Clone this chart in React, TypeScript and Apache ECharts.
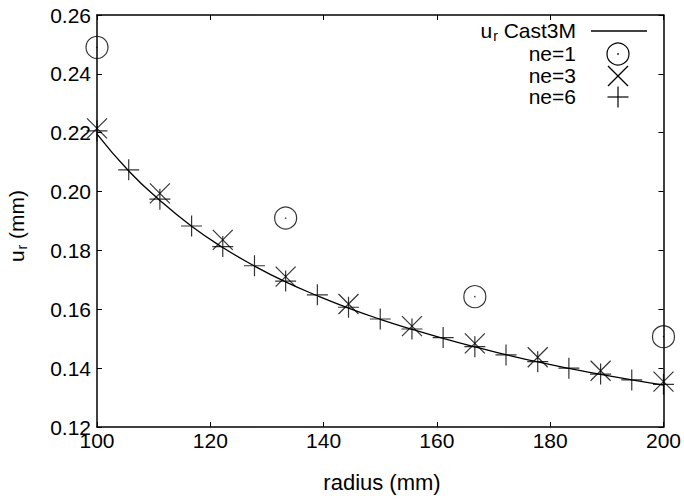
import React, { useEffect, useRef } from "react";
import * as echarts from "echarts";

const yTicks = { min: 0.12, max: 0.26, interval: 0.02 };
const xTicks = { min: 100, max: 200, interval: 20 };

const castX = [100, 105.6, 111.1, 116.7, 122.2, 127.8, 133.3, 138.9, 144.4, 150, 155.6, 161.1, 166.7, 172.2, 177.8, 183.3, 188.9, 194.4, 200];
const castY = [0.2195, 0.207, 0.197, 0.1882, 0.181, 0.1747, 0.1693, 0.1646, 0.1604, 0.1566, 0.1532, 0.1501, 0.1472, 0.1446, 0.1421, 0.1399, 0.1379, 0.136, 0.1342];

const ne1X = [100, 133.3, 166.7, 200];
const ne1Y = [0.249, 0.191, 0.1643, 0.1507];

const ne3X = [100, 111.1, 122.2, 133.3, 144.4, 155.6, 166.7, 177.8, 188.9, 200];
const ne3Y = [0.2215, 0.1994, 0.1836, 0.1711, 0.1618, 0.1543, 0.1484, 0.1437, 0.1391, 0.1354];

const ne6X = [100, 105.6, 111.1, 116.7, 122.2, 127.8, 133.3, 138.9, 144.4, 150, 155.6, 161.1, 166.7, 172.2, 177.8, 183.3, 188.9, 194.4, 200];
const ne6Y = [0.2206, 0.2074, 0.1974, 0.1883, 0.1813, 0.1748, 0.1696, 0.1649, 0.1607, 0.1567, 0.1533, 0.1504, 0.1473, 0.1445, 0.1422, 0.14, 0.138, 0.136, 0.1345];

const legendNames = ["Cast3M", "ne=1", "ne=3", "ne=6"];

const zip = (xs: number[], ys: number[]) => xs.map((x, i) => [x, ys[i]]);

const FONT = "Liberation Sans";
const FS = 21;
const PLUS = "path://M5,0L5,10M0,5L10,5";
const CROSS = "path://M0,0L10,10M10,0L0,10";

export default function App() {
  const ref = useRef<HTMLDivElement>(null);
  useEffect(() => {
    if (!ref.current) return;
    const chart = echarts.init(ref.current, null, { renderer: "svg" });
    const axisCommon = {
      axisLine: { show: true, lineStyle: { color: "#000", width: 1.5 } },
      axisTick: { show: true, inside: true, length: 5, lineStyle: { color: "#000", width: 1 } },
      splitLine: { show: false },
    };
    const labelStyle = { color: "#000", fontFamily: FONT, fontSize: FS };
    const markerStyle = { color: "none", borderColor: "#000", borderWidth: 1.2 };
    const legendTextStyle = { fill: "#000", font: `${FS}px "${FONT}"`, textAlign: "right", textVerticalAlign: "middle" };
    const richUr = {
      a: { fontFamily: FONT, fontSize: FS, fill: "#000", color: "#000" },
      b: { fontFamily: FONT, fontSize: 14, fill: "#000", color: "#000", padding: [11, 0, 0, 1] },
    };
    chart.setOption({
      animation: false,
      backgroundColor: "#fff",
      grid: { left: 97, right: 17, top: 15, bottom: 76, containLabel: false },
      xAxis: [
        {
          type: "value", position: "bottom", ...xTicks, ...axisCommon,
          axisLabel: { ...labelStyle, margin: 3, formatter: (v: number) => String(v) },
        },
        {
          type: "value", position: "top", ...xTicks, ...axisCommon,
          axisLabel: { show: false },
        },
      ],
      yAxis: [
        {
          type: "value", position: "left", ...yTicks, ...axisCommon,
          axisLabel: { ...labelStyle, margin: 6, formatter: (v: number) => v.toFixed(2) },
        },
        {
          type: "value", position: "right", ...yTicks, ...axisCommon,
          axisLabel: { show: false },
        },
      ],
      series: [
        {
          name: legendNames[0], type: "line", data: zip(castX, castY), smooth: true,
          showSymbol: false, symbol: "none", clip: false,
          lineStyle: { color: "#000", width: 1.3 },
        },
        {
          name: legendNames[1], type: "scatter", data: zip(ne1X, ne1Y), symbol: "circle",
          symbolSize: 22, clip: false, itemStyle: { color: "rgba(0,0,0,0)", borderColor: "#000", borderWidth: 1.2 },
        },
        {
          name: legendNames[1] + " centre", type: "scatter", data: zip(ne1X, ne1Y), symbol: "circle",
          symbolSize: 1.5, clip: false, itemStyle: { color: "#000" },
        },
        {
          name: legendNames[2], type: "scatter", data: zip(ne3X, ne3Y), symbol: CROSS,
          symbolSize: 20, clip: false, itemStyle: markerStyle,
        },
        {
          name: legendNames[3], type: "scatter", data: zip(ne6X, ne6Y), symbol: PLUS,
          symbolSize: 21, clip: false, itemStyle: markerStyle,
        },
      ],
      graphic: [
        {
          type: "text", x: 16, y: 226, rotation: Math.PI / 2,
          style: { text: "{a|u}{b|r}{a| (mm)}", textAlign: "center", textVerticalAlign: "middle", rich: richUr },
        },
        {
          type: "text", x: 382, y: 482,
          style: { text: "radius (mm)", fill: "#000", font: `22px "${FONT}"`, textAlign: "center", textVerticalAlign: "middle" },
        },
        {
          type: "text", x: 576, y: 30,
          style: { text: "{a|u}{b|r}{a| Cast3M}", textAlign: "right", textVerticalAlign: "middle", rich: richUr },
        },
        { type: "line", shape: { x1: 591, y1: 31, x2: 647, y2: 31 }, style: { stroke: "#000", lineWidth: 1.3 } },
        { type: "text", x: 576, y: 53, style: { ...legendTextStyle, text: legendNames[1] } },
        { type: "circle", shape: { cx: 618, cy: 54, r: 11 }, style: { fill: "none", stroke: "#000", lineWidth: 1.2 } },
        { type: "circle", shape: { cx: 618, cy: 54, r: 0.8 }, style: { fill: "#000" } },
        { type: "text", x: 576, y: 75, style: { ...legendTextStyle, text: legendNames[2] } },
        { type: "line", shape: { x1: 608, y1: 66, x2: 628, y2: 86 }, style: { stroke: "#000", lineWidth: 1.2 } },
        { type: "line", shape: { x1: 628, y1: 66, x2: 608, y2: 86 }, style: { stroke: "#000", lineWidth: 1.2 } },
        { type: "text", x: 576, y: 96, style: { ...legendTextStyle, text: legendNames[3] } },
        { type: "line", shape: { x1: 607.5, y1: 97, x2: 628.5, y2: 97 }, style: { stroke: "#000", lineWidth: 1.2 } },
        { type: "line", shape: { x1: 618, y1: 86.5, x2: 618, y2: 107.5 }, style: { stroke: "#000", lineWidth: 1.2 } },
      ],
    });
    return () => chart.dispose();
  }, []);
  return (
    <div
      ref={ref}
      style={{ position: "fixed", left: 0, top: 0, width: 684, height: 503, background: "#fff" }}
    />
  );
}
